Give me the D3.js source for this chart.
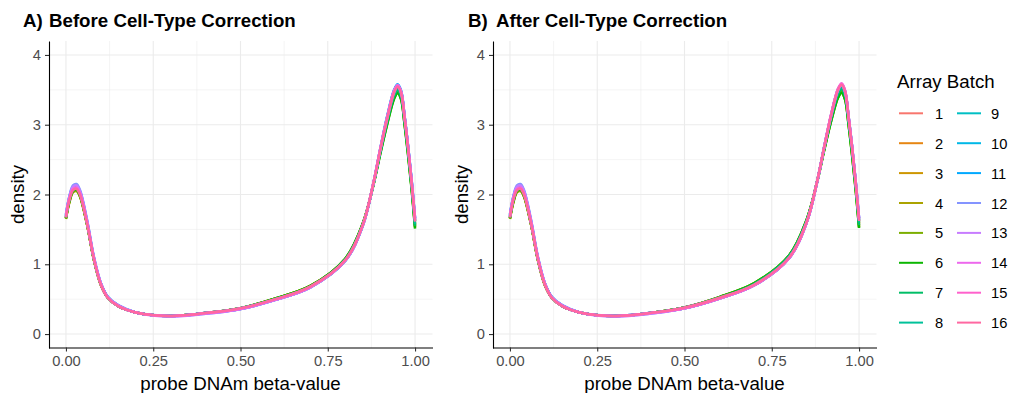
<!DOCTYPE html>
<html>
<head>
<meta charset="utf-8">
<script src="https://cdn.jsdelivr.net/npm/d3@7"></script>
<style>
  body { margin: 0; background: #fff; }
  svg { font-family: "Liberation Sans", Arial, sans-serif; }
</style>
</head>
<body>
<script>
// beta-value grid shared by every density curve
var betaGrid = [0, 0.01, 0.02, 0.03, 0.04, 0.06, 0.08, 0.10, 0.12, 0.15, 0.20, 0.30, 0.40, 0.50,
                0.60, 0.70, 0.80, 0.85, 0.88, 0.90, 0.92, 0.94, 0.95, 0.96, 0.97, 0.98, 0.99, 1.00];

var batches = ["1","2","3","4","5","6","7","8","9","10","11","12","13","14","15","16"];

var batchColors = ["#F8766D","#E68613","#CD9600","#ABA300","#7CAE00","#0CB702","#00BE67","#00C19A",
                   "#00BFC4","#00B8E7","#00A9FF","#8494FF","#C77CFF","#ED68ED","#FF61CC","#FF68A1"];

var xTicks = [0, 0.25, 0.5, 0.75, 1];
var xTickLabels = ["0.00", "0.25", "0.50", "0.75", "1.00"];
var yTicks = [0, 1, 2, 3, 4];

// density per batch, before correction
var beforeDensity = [
  [1.67,1.92,2.06,2.08,2.00,1.59,1.07,0.71,0.52,0.40,0.31,0.26,0.30,0.37,0.50,0.68,1.06,1.56,2.15,2.63,3.09,3.47,3.55,3.46,3.10,2.67,2.18,1.62],
  [1.66,1.91,2.05,2.07,1.99,1.59,1.07,0.71,0.52,0.40,0.31,0.26,0.30,0.37,0.50,0.68,1.07,1.57,2.14,2.61,3.06,3.44,3.52,3.43,3.07,2.64,2.15,1.58],
  [1.66,1.90,2.04,2.06,1.98,1.58,1.07,0.71,0.52,0.40,0.31,0.26,0.30,0.37,0.51,0.69,1.07,1.57,2.13,2.60,3.04,3.42,3.50,3.41,3.05,2.62,2.13,1.56],
  [1.65,1.89,2.03,2.05,1.97,1.58,1.06,0.70,0.52,0.40,0.31,0.26,0.30,0.37,0.51,0.69,1.08,1.58,2.13,2.59,3.02,3.39,3.47,3.38,3.02,2.59,2.11,1.54],
  [1.66,1.90,2.04,2.06,1.98,1.58,1.07,0.71,0.52,0.40,0.31,0.26,0.30,0.37,0.51,0.69,1.08,1.58,2.12,2.58,3.01,3.38,3.46,3.37,3.01,2.58,2.10,1.53],
  [1.66,1.91,2.05,2.07,1.99,1.59,1.07,0.71,0.52,0.40,0.31,0.26,0.30,0.37,0.51,0.69,1.08,1.58,2.12,2.57,3.00,3.37,3.45,3.36,3.00,2.56,2.08,1.51],
  [1.67,1.93,2.07,2.09,2.01,1.60,1.08,0.71,0.52,0.40,0.31,0.26,0.30,0.37,0.50,0.68,1.07,1.57,2.13,2.60,3.04,3.41,3.49,3.40,3.04,2.61,2.12,1.55],
  [1.68,1.94,2.08,2.10,2.02,1.61,1.08,0.72,0.52,0.40,0.31,0.26,0.30,0.37,0.50,0.68,1.06,1.56,2.13,2.61,3.06,3.44,3.52,3.43,3.07,2.64,2.15,1.58],
  [1.69,1.95,2.09,2.11,2.03,1.62,1.09,0.72,0.53,0.40,0.31,0.26,0.30,0.37,0.50,0.67,1.05,1.55,2.14,2.63,3.10,3.48,3.56,3.47,3.11,2.68,2.19,1.62],
  [1.70,1.96,2.10,2.12,2.04,1.62,1.09,0.72,0.53,0.41,0.31,0.26,0.30,0.36,0.49,0.67,1.05,1.55,2.14,2.64,3.11,3.49,3.57,3.48,3.12,2.69,2.21,1.64],
  [1.71,1.97,2.11,2.13,2.05,1.63,1.10,0.73,0.53,0.41,0.31,0.26,0.30,0.36,0.49,0.67,1.05,1.55,2.15,2.65,3.12,3.50,3.58,3.49,3.13,2.70,2.22,1.66],
  [1.72,1.98,2.13,2.15,2.07,1.65,1.11,0.73,0.53,0.41,0.31,0.26,0.29,0.36,0.49,0.67,1.05,1.55,2.14,2.64,3.10,3.48,3.56,3.47,3.12,2.70,2.22,1.67],
  [1.71,1.97,2.11,2.13,2.05,1.64,1.10,0.73,0.53,0.41,0.31,0.25,0.29,0.36,0.49,0.67,1.05,1.55,2.14,2.63,3.09,3.47,3.55,3.46,3.11,2.69,2.21,1.66],
  [1.69,1.95,2.08,2.10,2.02,1.61,1.09,0.72,0.52,0.40,0.31,0.26,0.30,0.36,0.49,0.67,1.05,1.55,2.15,2.65,3.11,3.49,3.57,3.48,3.12,2.69,2.20,1.65],
  [1.68,1.94,2.07,2.09,2.01,1.60,1.08,0.71,0.52,0.40,0.31,0.26,0.30,0.37,0.50,0.68,1.06,1.56,2.15,2.64,3.10,3.48,3.56,3.47,3.11,2.68,2.19,1.63],
  [1.67,1.93,2.06,2.08,2.00,1.60,1.08,0.71,0.52,0.40,0.31,0.26,0.30,0.37,0.50,0.68,1.06,1.56,2.14,2.63,3.08,3.46,3.54,3.45,3.09,2.66,2.17,1.61]
];

// density per batch, after correction
var afterDensity = [
  [1.67,1.92,2.06,2.08,2.00,1.59,1.07,0.71,0.52,0.40,0.31,0.26,0.30,0.38,0.52,0.71,1.10,1.61,2.19,2.67,3.12,3.49,3.56,3.46,3.09,2.66,2.17,1.62],
  [1.66,1.91,2.05,2.07,1.99,1.59,1.07,0.71,0.52,0.40,0.31,0.26,0.30,0.38,0.52,0.72,1.11,1.62,2.19,2.66,3.10,3.46,3.53,3.43,3.07,2.64,2.15,1.59],
  [1.66,1.90,2.04,2.06,1.98,1.58,1.06,0.70,0.52,0.40,0.31,0.26,0.30,0.38,0.53,0.72,1.12,1.63,2.19,2.65,3.08,3.43,3.50,3.40,3.04,2.61,2.13,1.57],
  [1.65,1.89,2.03,2.05,1.97,1.58,1.06,0.70,0.52,0.40,0.31,0.26,0.30,0.38,0.53,0.73,1.13,1.64,2.19,2.64,3.06,3.40,3.47,3.37,3.01,2.58,2.10,1.54],
  [1.66,1.90,2.04,2.06,1.98,1.58,1.07,0.71,0.52,0.40,0.31,0.26,0.30,0.38,0.53,0.73,1.13,1.64,2.18,2.63,3.05,3.39,3.46,3.36,3.00,2.57,2.09,1.53],
  [1.66,1.91,2.05,2.07,1.99,1.59,1.07,0.71,0.52,0.40,0.31,0.26,0.30,0.38,0.53,0.73,1.13,1.64,2.18,2.63,3.05,3.39,3.46,3.36,3.00,2.56,2.08,1.52],
  [1.67,1.93,2.07,2.09,2.01,1.60,1.08,0.71,0.52,0.40,0.31,0.26,0.30,0.38,0.52,0.72,1.12,1.63,2.19,2.65,3.09,3.44,3.51,3.41,3.05,2.62,2.13,1.56],
  [1.68,1.94,2.08,2.10,2.02,1.61,1.08,0.72,0.52,0.40,0.31,0.26,0.30,0.38,0.52,0.71,1.11,1.62,2.19,2.67,3.11,3.47,3.54,3.44,3.08,2.65,2.16,1.60],
  [1.69,1.95,2.09,2.11,2.03,1.62,1.09,0.72,0.53,0.40,0.31,0.26,0.30,0.37,0.51,0.70,1.09,1.60,2.19,2.68,3.14,3.51,3.58,3.48,3.11,2.68,2.19,1.63],
  [1.70,1.96,2.10,2.12,2.04,1.62,1.09,0.72,0.53,0.41,0.31,0.26,0.30,0.37,0.51,0.70,1.09,1.60,2.19,2.68,3.14,3.51,3.58,3.48,3.12,2.69,2.20,1.64],
  [1.71,1.97,2.11,2.13,2.05,1.63,1.10,0.73,0.53,0.41,0.31,0.26,0.30,0.37,0.51,0.70,1.09,1.60,2.18,2.67,3.13,3.50,3.57,3.47,3.11,2.69,2.21,1.66],
  [1.72,1.98,2.13,2.15,2.07,1.65,1.11,0.73,0.53,0.41,0.31,0.26,0.29,0.37,0.51,0.70,1.09,1.60,2.18,2.67,3.13,3.50,3.57,3.47,3.12,2.70,2.22,1.67],
  [1.71,1.97,2.11,2.13,2.05,1.64,1.10,0.73,0.53,0.41,0.31,0.25,0.29,0.37,0.51,0.70,1.09,1.60,2.18,2.67,3.13,3.50,3.57,3.47,3.11,2.69,2.21,1.66],
  [1.69,1.95,2.08,2.10,2.02,1.61,1.09,0.72,0.52,0.40,0.31,0.26,0.30,0.37,0.51,0.70,1.09,1.60,2.19,2.68,3.15,3.52,3.59,3.49,3.12,2.69,2.20,1.66],
  [1.68,1.94,2.07,2.09,2.01,1.60,1.08,0.71,0.52,0.40,0.31,0.26,0.30,0.37,0.51,0.70,1.09,1.60,2.19,2.68,3.15,3.52,3.59,3.49,3.12,2.69,2.19,1.64],
  [1.67,1.93,2.06,2.08,2.00,1.60,1.08,0.71,0.52,0.40,0.31,0.26,0.30,0.38,0.52,0.71,1.10,1.61,2.19,2.67,3.13,3.50,3.57,3.47,3.10,2.67,2.18,1.62]
];

var width = 1011, height = 393;
var color = d3.scaleOrdinal().domain(batches).range(batchColors);

var svg = d3.select("body").append("svg")
    .attr("width", width).attr("height", height);

// panel boxes (pixel extents of each plotting area)
var panels = [
  {tag: "A)", title: "Before Cell-Type Correction", data: beforeDensity, left: 48.5, right: 432.5, tagX: 23, titleX: 49},
  {tag: "B)", title: "After Cell-Type Correction", data: afterDensity, left: 492.5, right: 876.5, tagX: 468, titleX: 496}
];
var panelTop = 41, panelBottom = 348;

var y = d3.scaleLinear().domain([-0.2, 4.2]).range([panelBottom, panelTop]);

panels.forEach(function(p) {
  var x = d3.scaleLinear().domain([-0.05, 1.05]).range([p.left, p.right]);
  var g = svg.append("g");

  // minor grid
  var minorX = [0.125, 0.375, 0.625, 0.875];
  var minorY = [0.5, 1.5, 2.5, 3.5];
  g.selectAll(".mgx").data(minorX).enter().append("line")
      .attr("x1", x).attr("x2", x).attr("y1", panelTop).attr("y2", panelBottom)
      .attr("stroke", "#EBEBEB").attr("stroke-width", 0.55);
  g.selectAll(".mgy").data(minorY).enter().append("line")
      .attr("y1", y).attr("y2", y).attr("x1", p.left).attr("x2", p.right)
      .attr("stroke", "#EBEBEB").attr("stroke-width", 0.55);
  // major grid
  g.selectAll(".gx").data(xTicks).enter().append("line")
      .attr("x1", x).attr("x2", x).attr("y1", panelTop).attr("y2", panelBottom)
      .attr("stroke", "#EBEBEB").attr("stroke-width", 1.1);
  g.selectAll(".gy").data(yTicks).enter().append("line")
      .attr("y1", y).attr("y2", y).attr("x1", p.left).attr("x2", p.right)
      .attr("stroke", "#EBEBEB").attr("stroke-width", 1.1);

  // density lines
  var line = d3.line()
      .x(function(d, i) { return x(betaGrid[i]); })
      .y(function(d) { return y(d); })
      .curve(d3.curveCatmullRom.alpha(0.5));

  p.data.forEach(function(vals, k) {
    g.append("path")
        .attr("d", line(vals))
        .attr("fill", "none")
        .attr("stroke", color(batches[k]))
        .attr("stroke-width", 2.5);
  });

  // axes
  var xAxis = d3.axisBottom(x).tickValues(xTicks)
      .tickFormat(function(d, i) { return xTickLabels[i]; })
      .tickSizeInner(4).tickSizeOuter(0).tickPadding(4);
  var yAxis = d3.axisLeft(y).tickValues(yTicks)
      .tickFormat(d3.format("d"))
      .tickSizeInner(4).tickSizeOuter(0).tickPadding(4);

  var gx = g.append("g").attr("transform", "translate(0," + (panelBottom - 0.5) + ")").call(xAxis);
  var gy = g.append("g").attr("transform", "translate(" + (p.left + 0.5) + ",0)").call(yAxis);
  [gx, gy].forEach(function(a) {
    a.select(".domain").attr("stroke", "#000").attr("stroke-width", 1.1);
    a.selectAll(".tick line").attr("stroke", "#333").attr("stroke-width", 1.1);
    a.selectAll(".tick text").attr("fill", "#4D4D4D")
        .style("font-size", "14.7px").style("font-family", "Liberation Sans, Arial, sans-serif");
  });

  // axis titles
  g.append("text")
      .attr("x", (p.left + p.right) / 2).attr("y", 390)
      .attr("text-anchor", "middle")
      .style("font-size", "18.7px")
      .text("probe DNAm beta-value");
  g.append("text")
      .attr("transform", "translate(" + (p.left - 25) + "," + ((panelTop + panelBottom) / 2) + ") rotate(-90)")
      .attr("text-anchor", "middle")
      .style("font-size", "18.7px")
      .text("density");

  // tag and title
  g.append("text").attr("x", p.tagX).attr("y", 27)
      .style("font-size", "18.7px").style("font-weight", "bold").text(p.tag);
  g.append("text").attr("x", p.titleX).attr("y", 27)
      .style("font-size", "18.7px").style("font-weight", "bold").text(p.title);
});

// legend
var legend = svg.append("g");
legend.append("text").attr("x", 897).attr("y", 88)
    .style("font-size", "18.7px").text("Array Batch");

var items = legend.selectAll(".item").data(batches).enter().append("g")
    .attr("transform", function(d, i) {
      var col = Math.floor(i / 8), row = i % 8;
      return "translate(" + (899 + col * 58) + "," + (113.3 + row * 29.9) + ")";
    });
items.append("line")
    .attr("x1", 0).attr("x2", 24).attr("y1", 0).attr("y2", 0)
    .attr("stroke", function(d) { return color(d); })
    .attr("stroke-width", 2);
items.append("text")
    .attr("x", function(d, i) { return i < 8 ? 36 : 34; }).attr("y", 5.5)
    .style("font-size", "14.7px")
    .text(function(d) { return d; });
</script>
</body>
</html>
